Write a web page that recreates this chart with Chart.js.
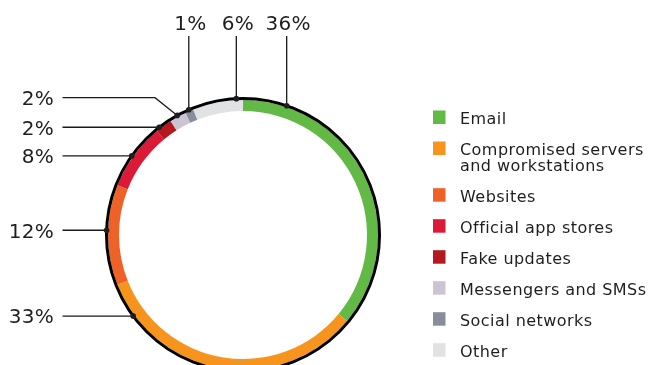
<!DOCTYPE html>
<html lang="en">
<head>
<meta charset="UTF-8">
<script src="https://cdn.jsdelivr.net/npm/chart.js@4.4.0/dist/chart.umd.min.js"></script>
<title>Infection sources</title>
<style>
  html, body { margin: 0; padding: 0; background: #fff; overflow: hidden; }
  #wrap { width: 648px; height: 380px; }
</style>
</head>
<body>
<div id="wrap"><canvas id="myChart" width="648" height="380"></canvas></div>
<script>
var categories = ['Email', ['Compromised servers', 'and workstations'], 'Websites', 'Official app stores',
    'Fake updates', 'Messengers and SMSs', 'Social networks', 'Other'];
var shares = [36, 33, 12, 8, 2, 2, 1, 6];
var sliceColors = ['#62b946', '#f7941e', '#ee6227', '#dc1a37', '#b3191f', '#cbc5d3', '#878d9b', '#e1e2e4'];

// callout for each slice: how far along the slice the dot sits, and where its label goes
var callouts = [
    {at: 0.144, side: 'top'},
    {at: 0.875, side: 'left'},
    {at: 0.546, side: 'left'},
    {at: 0.48, side: 'left'},
    {at: 0.24, side: 'left'},
    {at: 0.5, side: 'left', textY: 97.7, elbowX: 155},
    {at: 0.5, side: 'top'},
    {at: 0.87, side: 'top'}
];

var FONT = '"DejaVu Sans", sans-serif';

// black rim round the ring, dots + leader lines with the percentages
var ringAndCallouts = {
    id: 'ringAndCallouts',
    afterDatasetsDraw: function(chart) {
        var ctx = chart.ctx;
        var arcs = chart.getDatasetMeta(0).data;
        var cx = arcs[0].x, cy = arcs[0].y, r = arcs[0].outerRadius + 1.5;
        ctx.save();
        ctx.strokeStyle = '#000';
        ctx.lineWidth = 3;
        ctx.beginPath();
        ctx.arc(cx, cy, r, 0, Math.PI * 2);
        ctx.stroke();

        ctx.font = '20px ' + FONT;
        ctx.letterSpacing = '0.3px';
        ctx.fillStyle = '#1e1e1e';
        ctx.strokeStyle = '#1a1a1a';
        ctx.lineWidth = 1.3;
        ctx.textBaseline = 'alphabetic';
        arcs.forEach(function(arc, i) {
            var c = callouts[i];
            var a = arc.startAngle + c.at * (arc.endAngle - arc.startAngle);
            var px = cx + r * Math.cos(a), py = cy + r * Math.sin(a);
            var text = shares[i] + '%';
            ctx.beginPath();
            if (c.side === 'top') {
                ctx.moveTo(px, 36);
                ctx.lineTo(px, py);
                ctx.stroke();
                ctx.textAlign = 'center';
                ctx.fillText(text, px + 1.5, 30);
            } else {
                var ty = c.textY || py;
                ctx.moveTo(62.5, ty);
                if (c.elbowX) ctx.lineTo(c.elbowX, ty);
                ctx.lineTo(px, py);
                ctx.stroke();
                ctx.textAlign = 'right';
                ctx.fillText(text, 54, ty + 7.3);
            }
            ctx.beginPath();
            ctx.arc(px, py, 2.8, 0, Math.PI * 2);
            ctx.fill();
        });
        ctx.restore();
    }
};

// legend on the right, swatch + (possibly two-line) label
var sideLegend = {
    id: 'sideLegend',
    afterDraw: function(chart) {
        var ctx = chart.ctx;
        var labels = chart.data.labels;
        var colors = chart.data.datasets[0].backgroundColor;
        var baseline = 124;
        ctx.save();
        ctx.font = '16px ' + FONT;
        ctx.letterSpacing = '0.45px';
        ctx.textAlign = 'left';
        ctx.textBaseline = 'alphabetic';
        labels.forEach(function(lbl, i) {
            var lines = Array.isArray(lbl) ? lbl : [lbl];
            ctx.fillStyle = colors[i];
            ctx.fillRect(433, baseline - 13.5, 12.5, 13.5);
            ctx.fillStyle = '#1e1e1e';
            lines.forEach(function(line, j) {
                ctx.fillText(line, 460, baseline + j * 15.7);
            });
            baseline += 31 + (lines.length - 1) * 15.7;
        });
        ctx.restore();
    }
};

var ctx = document.getElementById('myChart');
new Chart(ctx, {
    type: 'doughnut',
    data: {
        labels: categories,
        datasets: [{
            data: shares,
            backgroundColor: sliceColors,
            borderWidth: 0
        }]
    },
    options: {
        responsive: false,
        animation: false,
        cutout: 124,
        layout: {padding: {left: 108, right: 270, top: 100, bottom: 10}},
        plugins: {
            legend: {display: false},
            tooltip: {enabled: false}
        }
    },
    plugins: [ringAndCallouts, sideLegend]
});
</script>
</body>
</html>
